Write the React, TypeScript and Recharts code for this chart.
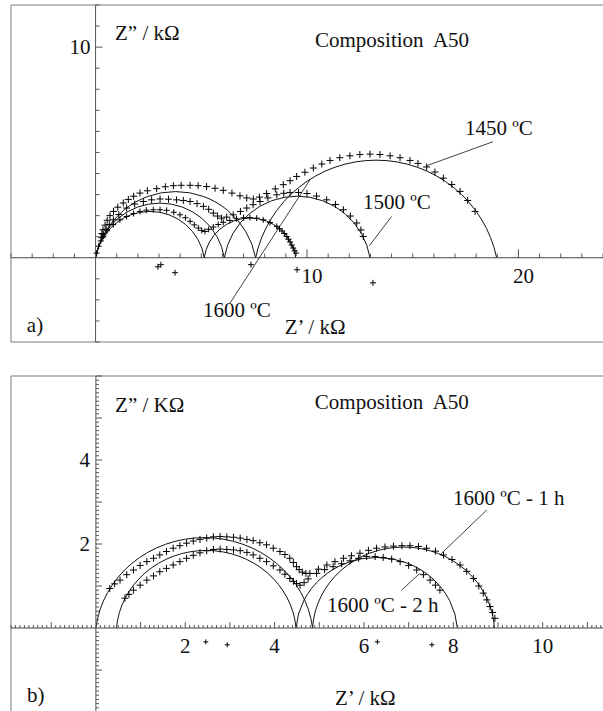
import { ComposedChart, Scatter, XAxis, YAxis, ReferenceLine, ReferenceArea, ReferenceDot } from "recharts";

type Pt = [number, number];
type Fit = { from: number; to: number; depth: number };

// ---- a) Composition A50, three sintering temperatures (Z' , Z'' in kOhm)
const a1450: Pt[] = [[0.3, 1.15], [0.35, 1.33], [0.45, 1.55], [0.55, 1.78], [0.68, 2.0], [0.85, 2.2], [1.05, 2.4], [1.31, 2.6], [1.55, 2.77], [1.8, 2.92], [2.1, 3.07], [2.45, 3.18], [2.89, 3.28], [3.3, 3.37], [3.68, 3.42], [4.05, 3.44], [4.47, 3.44], [4.85, 3.42], [5.25, 3.38], [5.65, 3.3], [6.04, 3.2], [6.45, 3.07], [6.83, 2.94], [7.15, 2.84], [7.46, 2.79], [7.75, 2.88], [8.09, 3.05], [8.5, 3.27], [8.88, 3.47], [9.2, 3.66], [9.51, 3.86], [9.9, 4.06], [10.3, 4.26], [10.7, 4.45], [11.09, 4.62], [11.55, 4.75], [12.03, 4.84], [12.5, 4.9], [12.98, 4.92], [13.45, 4.9], [13.93, 4.84], [14.4, 4.75], [14.87, 4.62], [15.25, 4.48], [15.66, 4.31], [16.05, 4.07], [16.45, 3.78], [16.85, 3.48], [17.24, 3.15], [17.6, 2.72], [17.95, 2.2]];
const a1500: Pt[] = [[0.3, 0.95], [0.36, 1.09], [0.5, 1.35], [0.65, 1.58], [0.84, 1.8], [1.1, 2.05], [1.47, 2.36], [1.85, 2.55], [2.26, 2.67], [2.65, 2.75], [3.05, 2.79], [3.45, 2.78], [3.83, 2.75], [4.15, 2.72], [4.47, 2.67], [4.8, 2.57], [5.1, 2.44], [5.35, 2.3], [5.57, 2.12], [5.77, 1.98], [5.96, 1.88], [6.2, 1.93], [6.51, 2.04], [6.85, 2.2], [7.15, 2.36], [7.45, 2.52], [7.78, 2.67], [8.15, 2.84], [8.57, 2.99], [8.9, 3.06], [9.2, 3.1], [9.6, 3.1], [10.0, 3.05], [10.45, 2.93], [10.93, 2.75], [11.35, 2.53], [11.72, 2.28], [12.05, 1.98], [12.35, 1.65], [12.55, 1.32], [12.66, 1.01]];
const a1600: Pt[] = [[0.05, 0.22], [0.15, 0.55], [0.25, 0.8], [0.36, 1.01], [0.55, 1.28], [0.84, 1.57], [1.15, 1.8], [1.47, 1.96], [1.8, 2.1], [2.1, 2.2], [2.4, 2.26], [2.73, 2.28], [3.05, 2.28], [3.36, 2.25], [3.7, 2.16], [3.99, 2.04], [4.25, 1.9], [4.47, 1.73], [4.67, 1.56], [4.86, 1.41], [5.02, 1.3], [5.17, 1.25], [5.35, 1.35], [5.57, 1.46], [5.8, 1.58], [6.04, 1.68], [6.35, 1.77], [6.67, 1.85], [7.0, 1.9], [7.3, 1.91], [7.62, 1.88], [7.93, 1.8], [8.25, 1.67], [8.57, 1.49], [8.7, 1.38], [8.82, 1.27], [8.93, 1.15], [9.04, 1.01], [9.12, 0.88], [9.2, 0.75], [9.28, 0.6], [9.35, 0.46], [9.42, 0.33], [9.48, 0.22]];
const aCentres: Pt[] = [[2.95, -0.43], [3.09, -0.33], [3.76, -0.71], [7.35, -0.33], [9.53, -0.57], [13.12, -1.19]];
// fitted (depressed) semicircles: where they cut the real axis, and how far below it the centre sits
const aFits: Fit[] = [
  { from: 0, to: 5.14, depth: 0.4 },
  { from: 5.14, to: 9.47, depth: 0.3 },
  { from: 0, to: 6.09, depth: 0.49 },
  { from: 6.09, to: 12.98, depth: 0.57 },
  { from: 0, to: 7.57, depth: 0.71 },
  { from: 7.57, to: 18.97, depth: 1.19 },
];
const aXLabels = [10, 20];
const aYLabels = [10];

// ---- b) Composition A50, 1600 C for 1 h and 2 h
const b1h: Pt[] = [[0.31, 0.94], [0.42, 1.05], [0.54, 1.14], [0.69, 1.27], [0.84, 1.38], [0.99, 1.49], [1.14, 1.58], [1.29, 1.66], [1.43, 1.74], [1.58, 1.82], [1.73, 1.9], [1.88, 1.96], [2.03, 2.02], [2.18, 2.07], [2.33, 2.11], [2.48, 2.14], [2.63, 2.17], [2.78, 2.18], [2.93, 2.17], [3.08, 2.16], [3.23, 2.14], [3.38, 2.11], [3.52, 2.08], [3.67, 2.03], [3.82, 1.98], [3.97, 1.9], [4.12, 1.82], [4.23, 1.75], [4.34, 1.66], [4.42, 1.56], [4.49, 1.46], [4.55, 1.39], [4.62, 1.33], [4.7, 1.3], [4.79, 1.3], [4.98, 1.4], [5.17, 1.5], [5.35, 1.58], [5.54, 1.66], [5.72, 1.72], [5.91, 1.78], [6.1, 1.85], [6.28, 1.9], [6.47, 1.93], [6.66, 1.95], [6.85, 1.96], [7.03, 1.96], [7.22, 1.94], [7.4, 1.9], [7.6, 1.83], [7.78, 1.74], [7.97, 1.63], [8.15, 1.5], [8.3, 1.35], [8.45, 1.18], [8.57, 1.0], [8.67, 0.83], [8.75, 0.67], [8.82, 0.51], [8.88, 0.37], [8.93, 0.23]];
const b2h: Pt[] = [[0.65, 0.71], [0.74, 0.8], [0.84, 0.9], [0.99, 1.02], [1.14, 1.14], [1.29, 1.24], [1.43, 1.34], [1.58, 1.42], [1.73, 1.5], [1.88, 1.58], [2.03, 1.66], [2.18, 1.73], [2.33, 1.79], [2.48, 1.84], [2.63, 1.87], [2.78, 1.88], [2.93, 1.87], [3.08, 1.86], [3.23, 1.84], [3.38, 1.8], [3.52, 1.74], [3.67, 1.66], [3.82, 1.58], [3.97, 1.48], [4.12, 1.38], [4.23, 1.28], [4.34, 1.18], [4.42, 1.11], [4.49, 1.06], [4.57, 1.02], [4.66, 1.08], [4.75, 1.17], [4.94, 1.3], [5.12, 1.39], [5.31, 1.46], [5.5, 1.53], [5.69, 1.6], [5.88, 1.66], [6.06, 1.7], [6.25, 1.7], [6.43, 1.68], [6.62, 1.64], [6.81, 1.58], [7.0, 1.49], [7.18, 1.38], [7.33, 1.27], [7.48, 1.14], [7.6, 1.02], [7.7, 0.9]];
const bCentres: Pt[] = [[2.46, -0.33], [2.94, -0.4], [6.3, -0.33], [7.52, -0.4]];
const bFits: Fit[] = [
  { from: 0, to: 4.85, depth: 0.29 },
  { from: 4.85, to: 8.92, depth: 0.11 },
  { from: 0.46, to: 4.48, depth: 0.17 },
  { from: 4.48, to: 8.09, depth: 0.13 },
];
const bXLabels = [2, 4, 6, 8, 10];
const bYLabels = [2, 4];

const FONT = "'Liberation Serif', 'Times New Roman', serif";
const INK = "#111";

const toXY = (pts: Pt[]) => pts.map(([x, y]) => ({ x, y }));
// tick positions along an axis, k ticks per unit
const steps = (a: number, b: number, k: number) => {
  const out: number[] = [];
  for (let i = Math.ceil(a * k - 1e-6); i <= Math.floor(b * k + 1e-6); i++) if (i !== 0) out.push(i / k);
  return out;
};

const plus = (s: number) => (p: any) => (
  <path d={`M${p.cx - s},${p.cy}H${p.cx + s}M${p.cx},${p.cy - s}V${p.cy + s}`} stroke="#000" strokeWidth={1} fill="none" />
);

const arcBox = (f: Fit) => {
  const c = (f.from + f.to) / 2;
  const half = (f.to - f.from) / 2;
  const r = Math.sqrt(half * half + f.depth * f.depth);
  return { c, r, x1: c - r, x2: c + r, y1: -f.depth - r, y2: -f.depth + r };
};

// draws only the part of the fitted circle above Z''=0, from the box the scales give us
const arcShape = (f: Fit) => (p: any) => {
  const { c, r } = arcBox(f);
  const kx = p.width / (2 * r);
  const ky = p.height / (2 * r);
  const left = p.x + (f.from - (c - r)) * kx;
  const right = p.x + (f.to - (c - r)) * kx;
  const base = p.y + (r - f.depth) * ky;
  return <path d={`M${left},${base}A${r * kx},${r * ky} 0 0 1 ${right},${base}`} fill="none" stroke={INK} strokeWidth={1} />;
};

const label = (text: string, anchor: "start" | "middle" | "end" = "start", dx = 0, dy = 7) => (p: any) => (
  <text x={p.cx + dx} y={p.cy + dy} textAnchor={anchor} fontFamily={FONT} fontSize={21} fill={INK}>{text}</text>
);

export default function App() {
  const aXT = steps(-4, 24, 1);
  const aYT = steps(-4, 12, 1);
  const bXT = steps(-1.9, 11.3, 10);
  const bYT = steps(-2, 6, 10);
  const isInt = (t: number) => Math.abs(t - Math.round(t)) < 1e-6;

  return (
    <div style={{ position: "absolute", left: 0, top: 0, width: 603, height: 711, background: "#fff", overflow: "hidden" }}>
      {/* a) */}
      <div style={{ position: "absolute", left: 0, top: 0 }}>
        <ComposedChart width={603} height={345} margin={{ top: 5, right: 0, bottom: 3, left: 11 }}>
          <XAxis type="number" dataKey="x" domain={[-4, 24]} allowDataOverflow hide />
          <YAxis type="number" dataKey="y" domain={[-4, 12]} allowDataOverflow hide />
          {/* frame */}
          <ReferenceLine x={-4} stroke="#7a7a7a" ifOverflow="visible" />
          <ReferenceLine y={12} stroke="#7a7a7a" ifOverflow="visible" />
          <ReferenceLine y={-4} stroke="#7a7a7a" ifOverflow="visible" />
          {/* axes through the origin */}
          <ReferenceLine x={0} stroke="#555" ifOverflow="visible" />
          <ReferenceLine y={0} stroke="#444" ifOverflow="visible" />
          {aXT.map((t) => (
            <ReferenceLine key={"ax" + t} segment={[{ x: t, y: 0 }, { x: t, y: aXLabels.includes(t) ? 0.4 : 0.2 }]} stroke="#555" ifOverflow="visible" />
          ))}
          {aYT.map((t) => (
            <ReferenceLine key={"ay" + t} segment={[{ x: 0, y: t }, { x: aYLabels.includes(t) ? 0.33 : 0.19, y: t }]} stroke="#555" ifOverflow="visible" />
          ))}
          {aXLabels.map((t) => (
            <ReferenceDot key={"axl" + t} x={t} y={0} r={0} ifOverflow="visible" shape={label(String(t), "middle", 5, 25)} />
          ))}
          {aYLabels.map((t) => (
            <ReferenceDot key={"ayl" + t} x={0} y={t} r={0} ifOverflow="visible" shape={label(String(t), "end", -5, 7)} />
          ))}

          {aFits.map((f, i) => {
            const b = arcBox(f);
            return <ReferenceArea key={"af" + i} x1={b.x1} x2={b.x2} y1={b.y1} y2={b.y2} ifOverflow="visible" shape={arcShape(f)} />;
          })}

          <Scatter data={toXY(a1450)} shape={plus(3.5)} isAnimationActive={false} />
          <Scatter data={toXY(a1500)} shape={plus(3.5)} isAnimationActive={false} />
          <Scatter data={toXY(a1600)} shape={plus(3)} isAnimationActive={false} />
          <Scatter data={toXY(aCentres)} shape={plus(3)} isAnimationActive={false} />

          {/* leader lines */}
          <ReferenceLine segment={[{ x: 18.8, y: 5.51 }, { x: 15.66, y: 4.37 }]} stroke={INK} strokeWidth={0.8} ifOverflow="visible" />
          <ReferenceLine segment={[{ x: 14.0, y: 1.96 }, { x: 12.95, y: 0.57 }]} stroke={INK} strokeWidth={0.8} ifOverflow="visible" />
          <ReferenceLine segment={[{ x: 6.36, y: -2.15 }, { x: 10.14, y: 3.7 }]} stroke={INK} strokeWidth={0.8} ifOverflow="visible" />

          <ReferenceDot x={0.92} y={10.68} r={0} ifOverflow="visible" shape={label("Z\u201d / k\u03a9")} />
          <ReferenceDot x={10.38} y={10.35} r={0} ifOverflow="visible" shape={label("Composition\u00a0 A50")} />
          <ReferenceDot x={17.47} y={6.17} r={0} ifOverflow="visible" shape={label("1450 \u00baC")} />
          <ReferenceDot x={12.65} y={2.66} r={0} ifOverflow="visible" shape={label("1500 \u00baC")} />
          <ReferenceDot x={5.08} y={-2.47} r={0} ifOverflow="visible" shape={label("1600 \u00baC")} />
          <ReferenceDot x={-3.25} y={-3.18} r={0} ifOverflow="visible" shape={label("a)")} />
          <ReferenceDot x={8.95} y={-3.28} r={0} ifOverflow="visible" shape={label("Z\u2019 / k\u03a9")} />
        </ComposedChart>
      </div>

      {/* b) */}
      <div style={{ position: "absolute", left: 0, top: 371 }}>
        <ComposedChart width={603} height={344} margin={{ top: 5, right: 0, bottom: 3, left: 11 }}>
          <XAxis type="number" dataKey="x" domain={[-1.9, 11.35]} allowDataOverflow hide />
          <YAxis type="number" dataKey="y" domain={[-2, 6]} allowDataOverflow hide />
          <ReferenceLine x={-1.9} stroke="#7a7a7a" ifOverflow="visible" />
          <ReferenceLine y={6} stroke="#7a7a7a" ifOverflow="visible" />
          <ReferenceLine x={0} stroke="#555" ifOverflow="visible" />
          <ReferenceLine y={0} stroke="#444" ifOverflow="visible" />
          {bXT.map((t) => (
            <ReferenceLine key={"bx" + t} segment={[{ x: t, y: 0 }, { x: t, y: isInt(t) ? 0.14 : 0.07 }]} stroke="#555" ifOverflow="visible" />
          ))}
          {bYT.map((t) => (
            <ReferenceLine key={"by" + t} segment={[{ x: 0, y: t }, { x: isInt(t) ? 0.14 : 0.07, y: t }]} stroke="#555" ifOverflow="visible" />
          ))}
          {bXLabels.map((t) => (
            <ReferenceDot key={"bxl" + t} x={t} y={0} r={0} ifOverflow="visible" shape={label(String(t), "middle", 0, 25)} />
          ))}
          {bYLabels.map((t) => (
            <ReferenceDot key={"byl" + t} x={0} y={t} r={0} ifOverflow="visible" shape={label(String(t), "end", -6, 7)} />
          ))}

          {bFits.map((f, i) => {
            const b = arcBox(f);
            return <ReferenceArea key={"bf" + i} x1={b.x1} x2={b.x2} y1={b.y1} y2={b.y2} ifOverflow="visible" shape={arcShape(f)} />;
          })}

          <Scatter data={toXY(b1h)} shape={plus(3.5)} isAnimationActive={false} />
          <Scatter data={toXY(b2h)} shape={plus(3.5)} isAnimationActive={false} />
          <Scatter data={toXY(bCentres)} shape={plus(2.5)} isAnimationActive={false} />

          <ReferenceLine segment={[{ x: 8.75, y: 2.81 }, { x: 7.7, y: 1.74 }]} stroke={INK} strokeWidth={0.8} ifOverflow="visible" />
          <ReferenceLine segment={[{ x: 6.84, y: 0.9 }, { x: 7.25, y: 1.3 }]} stroke={INK} strokeWidth={0.8} ifOverflow="visible" />

          <ReferenceDot x={0.43} y={5.31} r={0} ifOverflow="visible" shape={label("Z\u201d / K\u03a9")} />
          <ReferenceDot x={4.9} y={5.38} r={0} ifOverflow="visible" shape={label("Composition\u00a0 A50")} />
          <ReferenceDot x={7.99} y={3.1} r={0} ifOverflow="visible" shape={label("1600 \u00baC - 1 h")} />
          <ReferenceDot x={5.17} y={0.55} r={0} ifOverflow="visible" shape={label("1600 \u00baC - 2 h")} />
          <ReferenceDot x={-1.54} y={-1.6} r={0} ifOverflow="visible" shape={label("b)")} />
          <ReferenceDot x={5.35} y={-1.67} r={0} ifOverflow="visible" shape={label("Z\u2019 / k\u03a9")} />
        </ComposedChart>
      </div>
    </div>
  );
}
